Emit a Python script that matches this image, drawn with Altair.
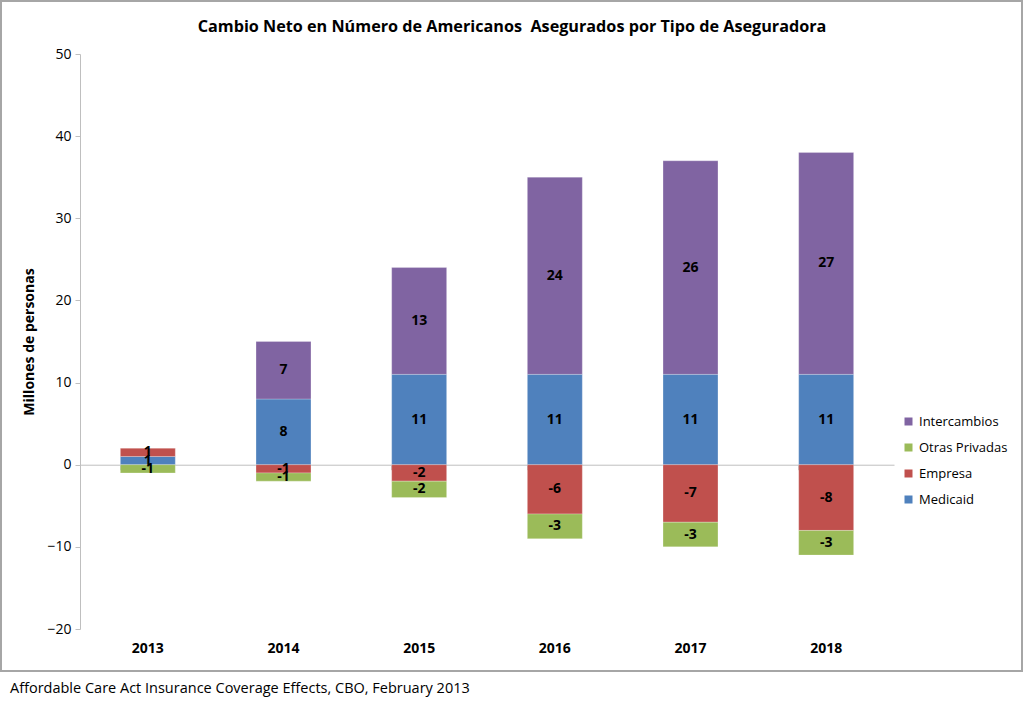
import altair as alt
import pandas as pd

# Net change in insured Americans (millions) by insurer type
years = ["2013", "2014", "2015", "2016", "2017", "2018"]
medicaid = [1, 8, 11, 11, 11, 11]
empresa = [1, -1, -2, -6, -7, -8]
otras_privadas = [-1, -1, -2, -3, -3, -3]
intercambios = [0, 7, 13, 24, 26, 27]

series_names = ["Medicaid", "Empresa", "Otras Privadas", "Intercambios"]
series_values = [medicaid, empresa, otras_privadas, intercambios]
series_colors = ["#4F81BD", "#C0504D", "#9BBB59", "#8064A2"]
legend_order = ["Intercambios", "Otras Privadas", "Empresa", "Medicaid"]

TITLE = "Cambio Neto en Número de Americanos \u00a0Asegurados por Tipo de Aseguradora"
SOURCE = "Affordable Care Act Insurance Coverage Effects, CBO, February 2013"

# Stack positives upward and negatives downward, in series order
rows = []
for i, yr in enumerate(years):
    pos, neg = 0.0, 0.0
    for name, vals in zip(series_names, series_values):
        v = vals[i]
        if v == 0:
            continue
        if v > 0:
            lo, hi = pos, pos + v
            pos = hi
        else:
            lo, hi = neg + v, neg
            neg = lo
        rows.append({"year": yr, "serie": name, "value": v, "label": str(v),
                     "y0": lo, "y1": hi, "mid": (lo + hi) / 2})
df = pd.DataFrame(rows)

FONT = "Open Sans"
W, H = 814, 575

x_scale = alt.Scale(domain=years, paddingInner=0.595, paddingOuter=0.2975)
y_scale = alt.Scale(domain=[-20, 50], nice=False)

bars = alt.Chart(df).mark_bar(stroke="white", strokeWidth=0.4, strokeOpacity=0.6).encode(
    x=alt.X("year:N", scale=x_scale, sort=years,
            axis=alt.Axis(title=None, domain=False, ticks=False, labelAngle=0,
                          labelFont=FONT, labelFontWeight="bold", labelFontSize=14,
                          labelColor="#000", labelPadding=12)),
    y=alt.Y("y0:Q", scale=y_scale,
            axis=alt.Axis(title="Millones de personas", values=list(range(-20, 51, 10)),
                          grid=False, domainColor="#BFBFBF", tickColor="#BFBFBF",
                          tickSize=5, labelFont=FONT, labelFontSize=14, labelColor="#000",
                          labelPadding=4, titleFont=FONT, titleFontSize=14,
                          titleFontWeight="bold", titleColor="#000", titlePadding=10)),
    y2="y1:Q",
    color=alt.Color("serie:N",
                    scale=alt.Scale(domain=series_names, range=series_colors),
                    sort=legend_order,
                    legend=alt.Legend(title=None, orient="none", legendX=822, legendY=361,
                                      symbolType="square", symbolSize=64,
                                      symbolStrokeWidth=0, labelFont=FONT,
                                      labelFontSize=13, labelColor="#000",
                                      rowPadding=12, values=legend_order)),
)

labels = alt.Chart(df).mark_text(font=FONT, fontSize=14, fontWeight="bold",
                                 color="#000", baseline="middle").encode(
    x=alt.X("year:N", scale=x_scale, sort=years, axis=None),
    y=alt.Y("mid:Q", scale=y_scale),
    text=alt.Text("label:N"),
)

# Horizontal category axis drawn along zero with ticks between categories
zero_axis = alt.Chart(pd.DataFrame({"year": years})).mark_tick(opacity=0).encode(
    x=alt.X("year:N", scale=x_scale, sort=years,
            axis=alt.Axis(title=None, labels=False, domain=True, domainColor="#BFBFBF",
                          ticks=True, tickColor="#BFBFBF", tickSize=5, bandPosition=0,
                          offset=-(575 * 20 / 70), orient="bottom", tickExtra=True)),
)

frame = alt.Chart(pd.DataFrame({"k": [0]})).mark_rect(
    fill=None, stroke="#A6A6A6", strokeWidth=2).encode(
    x=alt.value(-79), x2=alt.value(W + 128), y=alt.value(-53), y2=alt.value(H + 42),
)

title = alt.Chart(pd.DataFrame({"t": [TITLE]})).mark_text(
    font=FONT, fontSize=16.2, fontWeight="bold", color="#000", align="center",
    baseline="middle").encode(x=alt.value(432), y=alt.value(-27), text="t:N")

source = alt.Chart(pd.DataFrame({"t": [SOURCE]})).mark_text(
    font=FONT, fontSize=14.5, color="#000", align="left", baseline="middle").encode(
    x=alt.value(-70), y=alt.value(H + 60), text="t:N")

chart = alt.layer(frame, bars, labels, zero_axis, title, source).resolve_axis(
    x="independent").properties(
    width=W, height=H,
    autosize=alt.AutoSizeParams(type="none"),
    padding={"left": 80, "top": 54, "right": 130, "bottom": 77},
).configure_view(stroke=None)

chart.save("out.html", embed_options={"renderer": "svg", "actions": False})
